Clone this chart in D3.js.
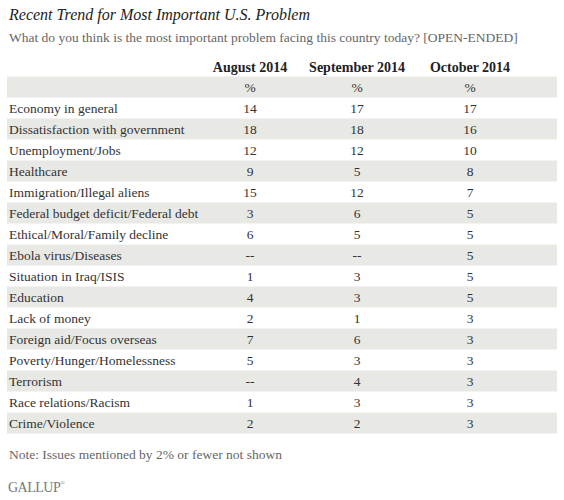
<!DOCTYPE html>
<html><head><meta charset="utf-8">
<script src="https://cdn.jsdelivr.net/npm/d3@7"></script>
<style>body{margin:0;background:#fff}svg{display:block}</style>
</head><body><svg id="c" width="564" height="500"></svg>
<script>
const title = "Recent Trend for Most Important U.S. Problem";
const subtitle = "What do you think is the most important problem facing this country today? [OPEN-ENDED]";
const columns = ["August 2014", "September 2014", "October 2014"];
const categories = ["Economy in general","Dissatisfaction with government","Unemployment/Jobs","Healthcare","Immigration/Illegal aliens","Federal budget deficit/Federal debt","Ethical/Moral/Family decline","Ebola virus/Diseases","Situation in Iraq/ISIS","Education","Lack of money","Foreign aid/Focus overseas","Poverty/Hunger/Homelessness","Terrorism","Race relations/Racism","Crime/Violence"];
const august    = ["14","18","12","9","15","3","6","--","1","4","2","7","5","--","1","2"];
const september = ["17","18","12","5","12","6","5","--","3","3","1","6","3","4","3","2"];
const october   = ["17","16","10","8","7","5","5","5","5","5","3","3","3","3","3","3"];
const note = "Note: Issues mentioned by 2% or fewer not shown";
const source = "GALLUP";

const series = [august, september, october];
const rows = [{label:"", vals:["%","%","%"]}].concat(categories.map((c,i)=>({label:c, vals:series.map(s=>s[i])})));

const svg = d3.select("#c");
const font = "'Liberation Serif', 'Times New Roman', serif";
const y = d3.scaleBand().domain(d3.range(rows.length)).range([76.5, 76.5 + 21*rows.length]).padding(0);
const x = d3.scaleOrdinal().domain(columns).range([250, 357, 470]);

svg.append("text").attr("x",9).attr("y",20).attr("font-family",font).attr("font-style","italic")
  .attr("font-size",16).attr("fill","#222").text(title);
svg.append("text").attr("x",9).attr("y",42).attr("font-family",font)
  .attr("font-size",13.5).attr("fill","#666").text(subtitle);

svg.selectAll("text.hdr").data(columns).join("text").attr("class","hdr")
  .attr("x",d=>x(d)).attr("y",72).attr("text-anchor","middle").attr("font-family",font)
  .attr("font-weight","bold").attr("font-size",14).attr("fill","#222").text(d=>d);

const g = svg.selectAll("g.row").data(rows).join("g").attr("class","row")
  .attr("transform",(d,i)=>`translate(0,${y(i)})`);
g.filter((d,i)=>i%2===0).append("rect").attr("x",7).attr("width",550).attr("height",y.bandwidth()).attr("fill","#e8e8e4");
g.append("text").attr("x",9).attr("y",15).attr("font-family",font).attr("font-size",13.5).attr("fill","#333").text(d=>d.label);
g.selectAll("text.v").data(d=>d.vals.map((v,j)=>({v,col:columns[j]}))).join("text").attr("class","v")
  .attr("x",d=>x(d.col)).attr("y",15).attr("text-anchor","middle").attr("font-family",font)
  .attr("font-size",13.5).attr("fill","#333").text(d=>d.v);

svg.append("text").attr("x",9).attr("y",459).attr("font-family",font).attr("font-size",13.5).attr("fill","#666").text(note);
svg.append("text").attr("x",8).attr("y",492).attr("font-family",font).attr("font-size",14).attr("fill","#777").attr("letter-spacing",-0.5).text(source)
  .append("tspan").attr("font-size",6).attr("dy",-7).text("®");
</script></body></html>
